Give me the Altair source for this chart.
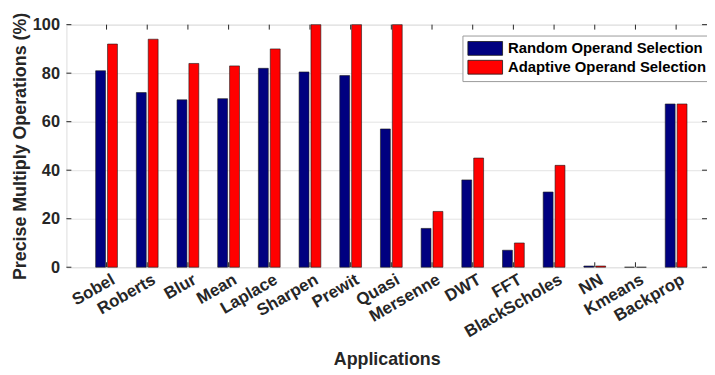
import altair as alt
import pandas as pd

apps = ["Sobel", "Roberts", "Blur", "Mean", "Laplace", "Sharpen", "Prewit", "Quasi",
        "Mersenne", "DWT", "FFT", "BlackScholes", "NN", "Kmeans", "Backprop"]
series_names = ["Random Operand Selection", "Adaptive Operand Selection"]
random_sel = [81, 72, 69, 69.5, 82, 80.5, 79, 57, 16, 36, 7, 31, 0.5, 0, 67.3]
adaptive_sel = [92, 94, 84, 83, 90, 100, 100, 100, 23, 45, 10, 42, 0.5, 0, 67.3]
y_ticks = [0, 20, 40, 60, 80, 100]

rows = []
for i, a in enumerate(apps):
    rows.append({"app": a, "series": series_names[0], "value": random_sel[i]})
    rows.append({"app": a, "series": series_names[1], "value": adaptive_sel[i]})
df = pd.DataFrame(rows)
df_apps = pd.DataFrame({"app": apps})
df_y = pd.DataFrame({"v": y_ticks})

W, H = 647, 245
FONT = "Liberation Sans"
TXT = "#262626"

xscale = alt.Scale(paddingInner=0.465, paddingOuter=0.605, align=0.594)

bars = alt.Chart(df).mark_bar(stroke="#1a1a1a", strokeWidth=0.6).encode(
    x=alt.X("app:N", sort=apps, scale=xscale,
            axis=alt.Axis(title="Applications", labelAngle=-30, labelAlign="right",
                          labelBaseline="middle", labelPadding=11, labelOffset=7,
                          ticks=False, domain=False, grid=False,
                          labelFont=FONT, labelFontSize=17, labelFontWeight="bold",
                          labelColor=TXT, titleFont=FONT, titleFontSize=18,
                          titleFontWeight="bold", titleColor=TXT, titlePadding=11)),
    xOffset=alt.XOffset("series:N", sort=series_names,
                        scale=alt.Scale(paddingInner=0.167, paddingOuter=0)),
    y=alt.Y("value:Q", scale=alt.Scale(domain=[0, 100], nice=False),
            axis=alt.Axis(title="Precise Multiply Operations (%)", values=y_ticks,
                          ticks=False, domain=False, grid=True, gridColor="#e3e3e3",
                          labelPadding=7, labelFont=FONT, labelFontSize=16.5,
                          labelFontWeight="bold", labelColor=TXT,
                          titleFont=FONT, titleFontSize=18, titleFontWeight="bold",
                          titleColor=TXT, titlePadding=3)),
    color=alt.Color("series:N", sort=series_names,
                    scale=alt.Scale(domain=series_names, range=["#000080", "#ff0000"]),
                    legend=alt.Legend(title=None, orient="none", legendX=400, legendY=11,
                                      symbolType="M-1,-0.93H3.667V0.93H-1Z", symbolSize=225,
                                      symbolStrokeColor="#1a1a1a", symbolStrokeWidth=0.8,
                                      symbolOpacity=1,
                                      labelFont=FONT, labelFontSize=15, labelFontWeight="bold",
                                      labelColor="#000000", labelLimit=400, labelOffset=25,
                                      rowPadding=1, padding=5,
                                      strokeColor="#9a9a9a", fillColor="#ffffff")),
)

tick_color = "#262626"
bot_ticks = alt.Chart(df_apps).mark_rule(color=tick_color, strokeWidth=1).encode(
    x=alt.X("app:N", sort=apps), y=alt.value(H), y2=alt.value(H - 5))
top_ticks = alt.Chart(df_apps).mark_rule(color=tick_color, strokeWidth=1).encode(
    x=alt.X("app:N", sort=apps), y=alt.value(0), y2=alt.value(5))
left_ticks = alt.Chart(df_y).mark_rule(color=tick_color, strokeWidth=1).encode(
    y=alt.Y("v:Q"), x=alt.value(0), x2=alt.value(5))
right_ticks = alt.Chart(df_y).mark_rule(color=tick_color, strokeWidth=1).encode(
    y=alt.Y("v:Q"), x=alt.value(W - 5), x2=alt.value(W))

chart = alt.layer(bars, bot_ticks, top_ticks, left_ticks, right_ticks).properties(
    width=W, height=H,
    autosize=alt.AutoSizeParams(type="none"),
    padding={"left": 59, "top": 15, "right": 0, "bottom": 104},
).configure_view(stroke="#262626", strokeWidth=1.3).configure(background="white")

chart.save("out.html", embed_options={"renderer": "svg", "actions": False})
